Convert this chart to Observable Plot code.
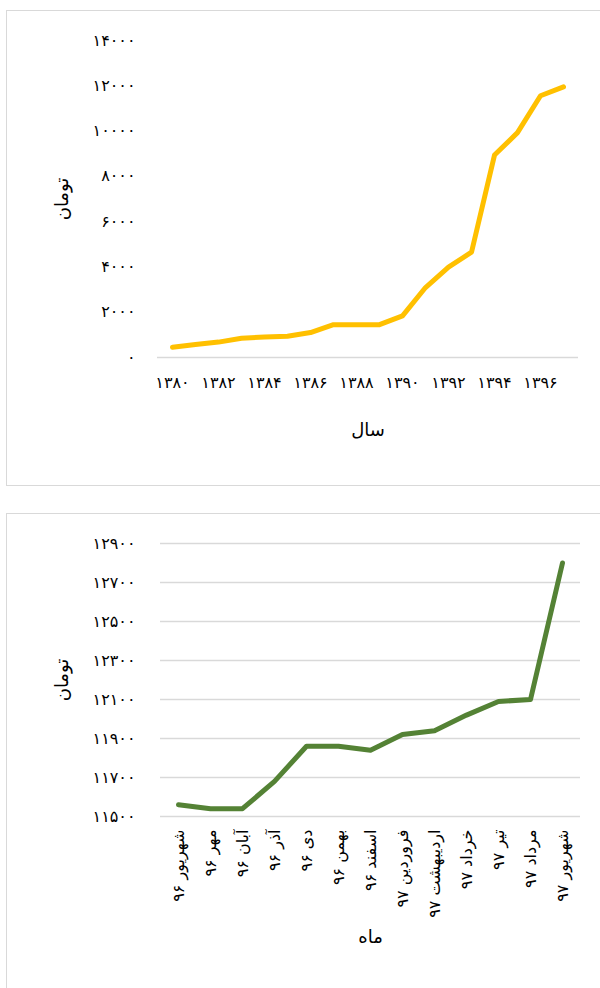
<!DOCTYPE html>
<html><head><meta charset="utf-8">
<script src="https://cdn.jsdelivr.net/npm/d3@7"></script>
<script src="https://cdn.jsdelivr.net/npm/@observablehq/plot@0.6"></script>
<style>
html,body{margin:0;padding:0;background:#fff;}
body{width:600px;height:988px;position:relative;overflow:hidden;font-family:"DejaVu Sans",sans-serif;}
.panel{position:absolute;left:6px;width:600px;height:474px;border:1px solid #d9d9d9;background:#fff;}
#p1{top:10px;}
#p2{top:513px;}
.panel svg{display:block;}
</style></head><body>
<div class="panel" id="p1"></div>
<div class="panel" id="p2"></div>
<script>
const years = [1380,1381,1382,1383,1384,1385,1386,1387,1388,1389,1390,1391,1392,1393,1394,1395,1396,1397];
const yearPrices = [450,570,680,850,910,940,1100,1450,1450,1450,1840,3090,3990,4650,8940,9930,11560,11950];
const yearTicks = [1380,1382,1384,1386,1388,1390,1392,1394,1396];
const yTicks1 = [0,2000,4000,6000,8000,10000,12000,14000];

const months = ["شهریور ۹۶","مهر ۹۶","آبان ۹۶","آذر ۹۶","دی ۹۶","بهمن ۹۶","اسفند ۹۶","فروردین ۹۷","اردیبهشت ۹۷","خرداد ۹۷","تیر ۹۷","مرداد ۹۷","شهریور ۹۷"];
const monthPrices = [11560,11540,11540,11680,11860,11860,11840,11920,11940,12020,12090,12100,12800];
const yTicks2 = [11500,11700,11900,12100,12300,12500,12700,12900];

const yTitle = "تومان";
const xTitle1 = "سال";
const xTitle2 = "ماه";

const fa = n => String(n).replace(/\d/g, d => "۰۱۲۳۴۵۶۷۸۹"[+d]);
const font = '"DejaVu Sans", sans-serif';

const data1 = years.map((y, i) => ({year: y, price: yearPrices[i]}));
const data2 = months.map((m, i) => ({month: m, price: monthPrices[i]}));

const plot1 = Plot.plot({
  width: 593, height: 474,
  marginLeft: 150, marginRight: 22, marginTop: 29, marginBottom: 128,
  style: {fontFamily: font, fontSize: "16px", color: "#000", background: "transparent"},
  x: {type: "point", domain: years, padding: 0.5, align: 0.5, ticks: yearTicks, tickFormat: fa, tickSize: 0, tickPadding: 19, label: null},
  y: {domain: [0, 14000], ticks: yTicks1, tickFormat: fa, tickSize: 0, tickPadding: 22, label: null},
  marks: [
    Plot.ruleY([0], {stroke: "#d9d9d9", strokeWidth: 1.5}),
    Plot.lineY(data1, {x: "year", y: "price", stroke: "#FFC000", strokeWidth: 5, strokeLinecap: "round", strokeLinejoin: "round"}),
    Plot.text([yTitle], {text: d => d, frameAnchor: "left", textAnchor: "middle", lineAnchor: "middle", dx: -95, rotate: -90, fontSize: 18}),
    Plot.text([xTitle1], {text: d => d, frameAnchor: "bottom", textAnchor: "middle", lineAnchor: "middle", dy: 73, fontSize: 18})
  ]
});
document.getElementById("p1").appendChild(plot1);

const plot2 = Plot.plot({
  width: 593, height: 474,
  marginLeft: 153, marginRight: 20, marginTop: 29, marginBottom: 172,
  style: {fontFamily: font, fontSize: "16px", color: "#000", background: "transparent"},
  x: {type: "point", domain: months, padding: 0.5, align: 0.5, tickRotate: -90, tickSize: 0, tickPadding: 13, label: null},
  y: {domain: [11500, 12900], ticks: yTicks2, tickFormat: fa, tickSize: 0, tickPadding: 25, label: null},
  marks: [
    Plot.ruleY(yTicks2, {stroke: "#d9d9d9", strokeWidth: 1.5}),
    Plot.lineY(data2, {x: "month", y: "price", stroke: "#548235", strokeWidth: 5, strokeLinecap: "round", strokeLinejoin: "round"}),
    Plot.text([yTitle], {text: d => d, frameAnchor: "left", textAnchor: "middle", lineAnchor: "middle", dx: -98, rotate: -90, fontSize: 18}),
    Plot.text([xTitle2], {text: d => d, frameAnchor: "bottom", textAnchor: "middle", lineAnchor: "middle", dy: 121, fontSize: 18})
  ]
});
document.getElementById("p2").appendChild(plot2);
</script>
</body></html>
